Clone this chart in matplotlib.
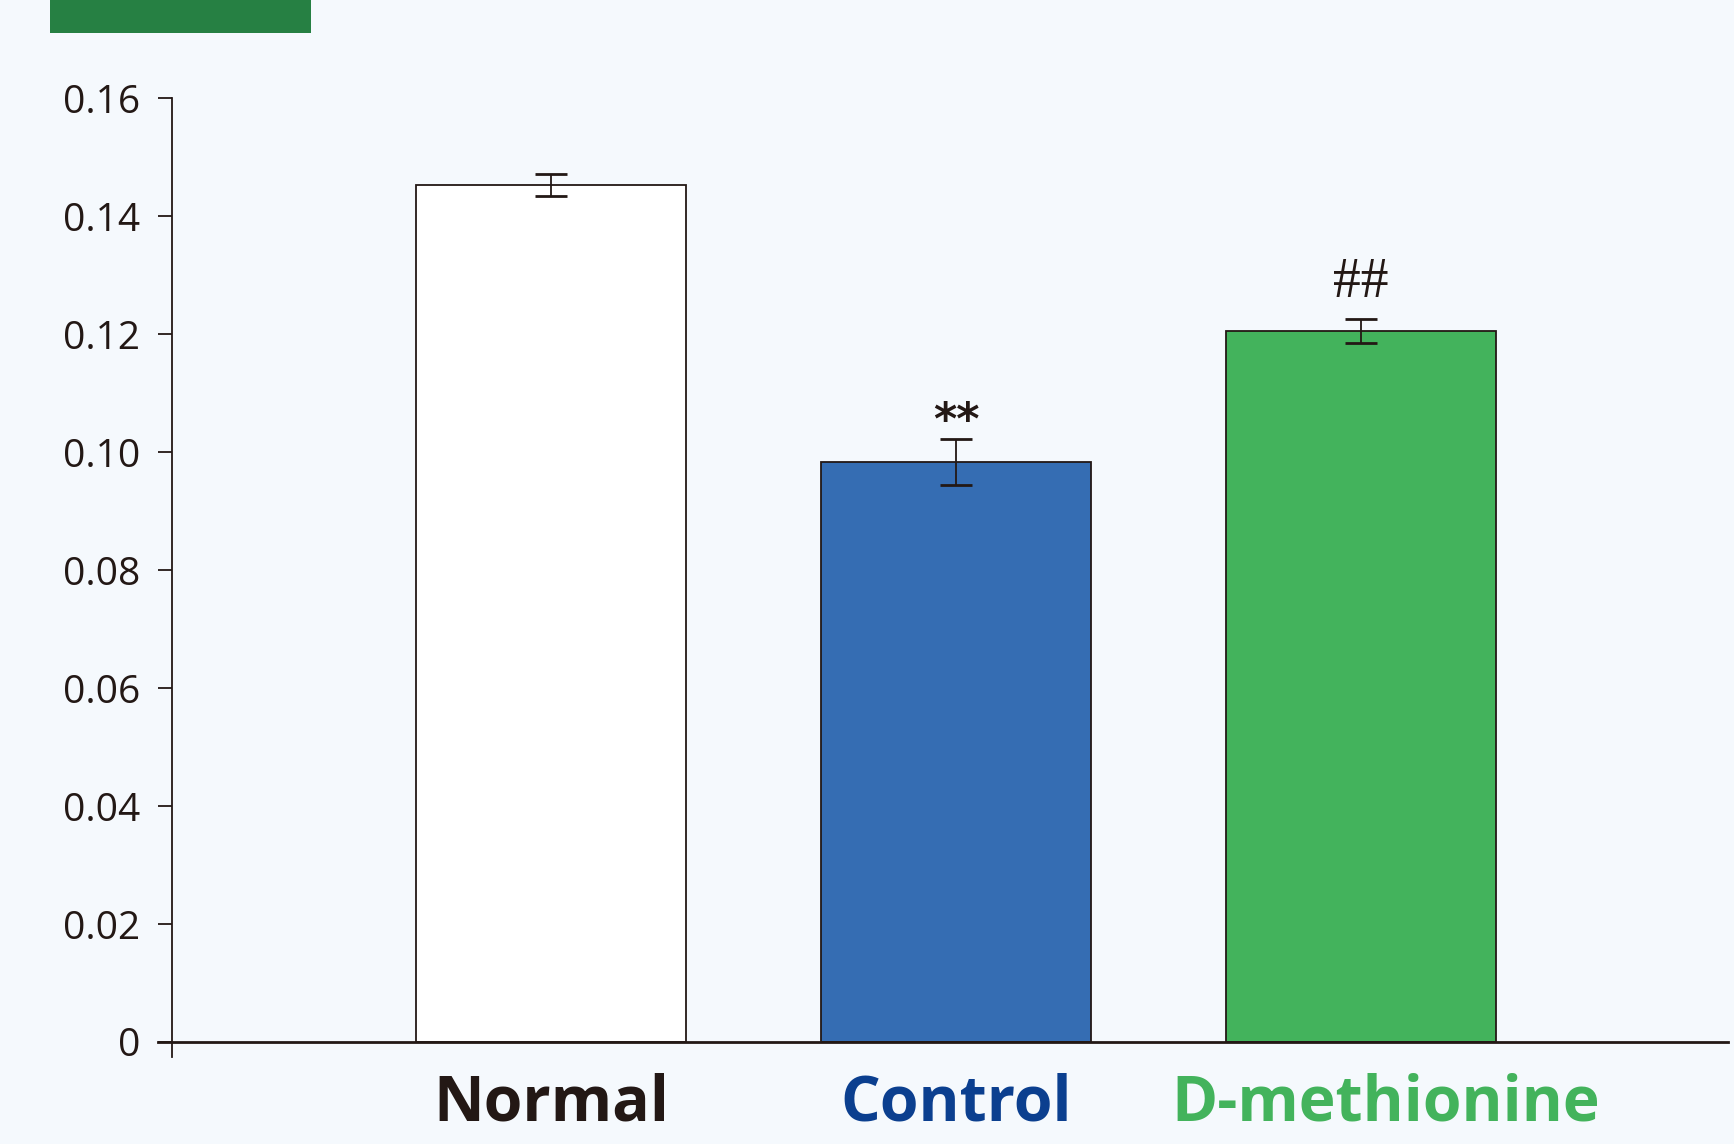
import matplotlib
matplotlib.use("Agg")
import matplotlib.pyplot as plt
from matplotlib.patches import Rectangle

# Data
groups = ["Normal", "Control", "D-methionine"]
means = [0.1453, 0.0984, 0.1205]
errors = [0.0019, 0.0039, 0.0020]
bar_colors = ["#FFFFFF", "#356DB3", "#43B35C"]
label_colors = ["#231815", "#0B3F8F", "#43B35C"]
marks = ["", "**", "##"]
mark_heights = [None, 0.1052, 0.1287]
yticks = [0, 0.02, 0.04, 0.06, 0.08, 0.10, 0.12, 0.14, 0.16]
ytick_labels = ["0", "0.02", "0.04", "0.06", "0.08", "0.10", "0.12", "0.14", "0.16"]

W, H = 1734, 1144
bg = "#F5F9FD"
ink = "#231815"

fig = plt.figure(figsize=(W / 100, H / 100), dpi=100, facecolor=bg)

# header tab
fig.patches.append(Rectangle((50 / W, 1 - 33 / H), 261 / W, 33 / H,
                             transform=fig.transFigure, facecolor="#268043",
                             edgecolor="none"))

ax_left, ax_right = 172, 1728
y0_px, ytop_px, ybot_px = 1042, 98.3, 1057
ax = fig.add_axes([ax_left / W, 1 - ybot_px / H,
                   (ax_right - ax_left) / W, (ybot_px - ytop_px) / H])
ax.set_facecolor(bg)

per_px = 0.16 / (y0_px - ytop_px)
ax.set_ylim(-(ybot_px - y0_px) * per_px, 0.16)
spacing = 405.0
ax.set_xlim(-(551 - ax_left) / spacing, (ax_right - 551) / spacing)

x = list(range(len(groups)))
ax.bar(x, means, width=270 / spacing, color=bar_colors, edgecolor=ink,
       linewidth=1.3, zorder=2)
ax.errorbar(x, means, yerr=errors, fmt="none", ecolor=ink, elinewidth=1.3,
            capsize=11.5, capthick=2.0, zorder=3)

for xi, m, h in zip(x, marks, mark_heights):
    if not m:
        continue
    if m == "**":
        ax.text(xi, h, m, ha="center", va="center", fontsize=32,
                fontweight="bold", color=ink, family="DejaVu Sans")
    else:
        ax.text(xi, h, m, ha="center", va="center", fontsize=40,
                color=ink, family="Liberation Serif")

for s in ["top", "right", "bottom"]:
    ax.spines[s].set_visible(False)
ax.spines["left"].set_color(ink)
ax.spines["left"].set_linewidth(1.3)

# baseline extending just left of the y axis
ax.axhline(0, xmin=-14 / (ax_right - ax_left), xmax=1, color=ink,
           linewidth=2.0, clip_on=False, zorder=4)

ax.set_yticks(yticks)
ax.set_yticklabels(ytick_labels, family="Open Sans", fontsize=28, color=ink)
ax.tick_params(axis="y", length=10, width=1.3, color=ink, pad=13)

# group labels under the bars, the long last one nudged right
ax.set_xticks([])
label_shift = [0, 0, 18]
for xi, name, c, dx in zip(x, groups, label_colors, label_shift):
    ax.annotate(name, xy=(xi, 0), xycoords=("data", "axes fraction"),
                xytext=(dx, -11), textcoords="offset points",
                ha="center", va="top", family="Open Sans",
                fontweight="bold", fontsize=45, color=c,
                annotation_clip=False)

fig.savefig("out.png", dpi=100, facecolor=bg)
